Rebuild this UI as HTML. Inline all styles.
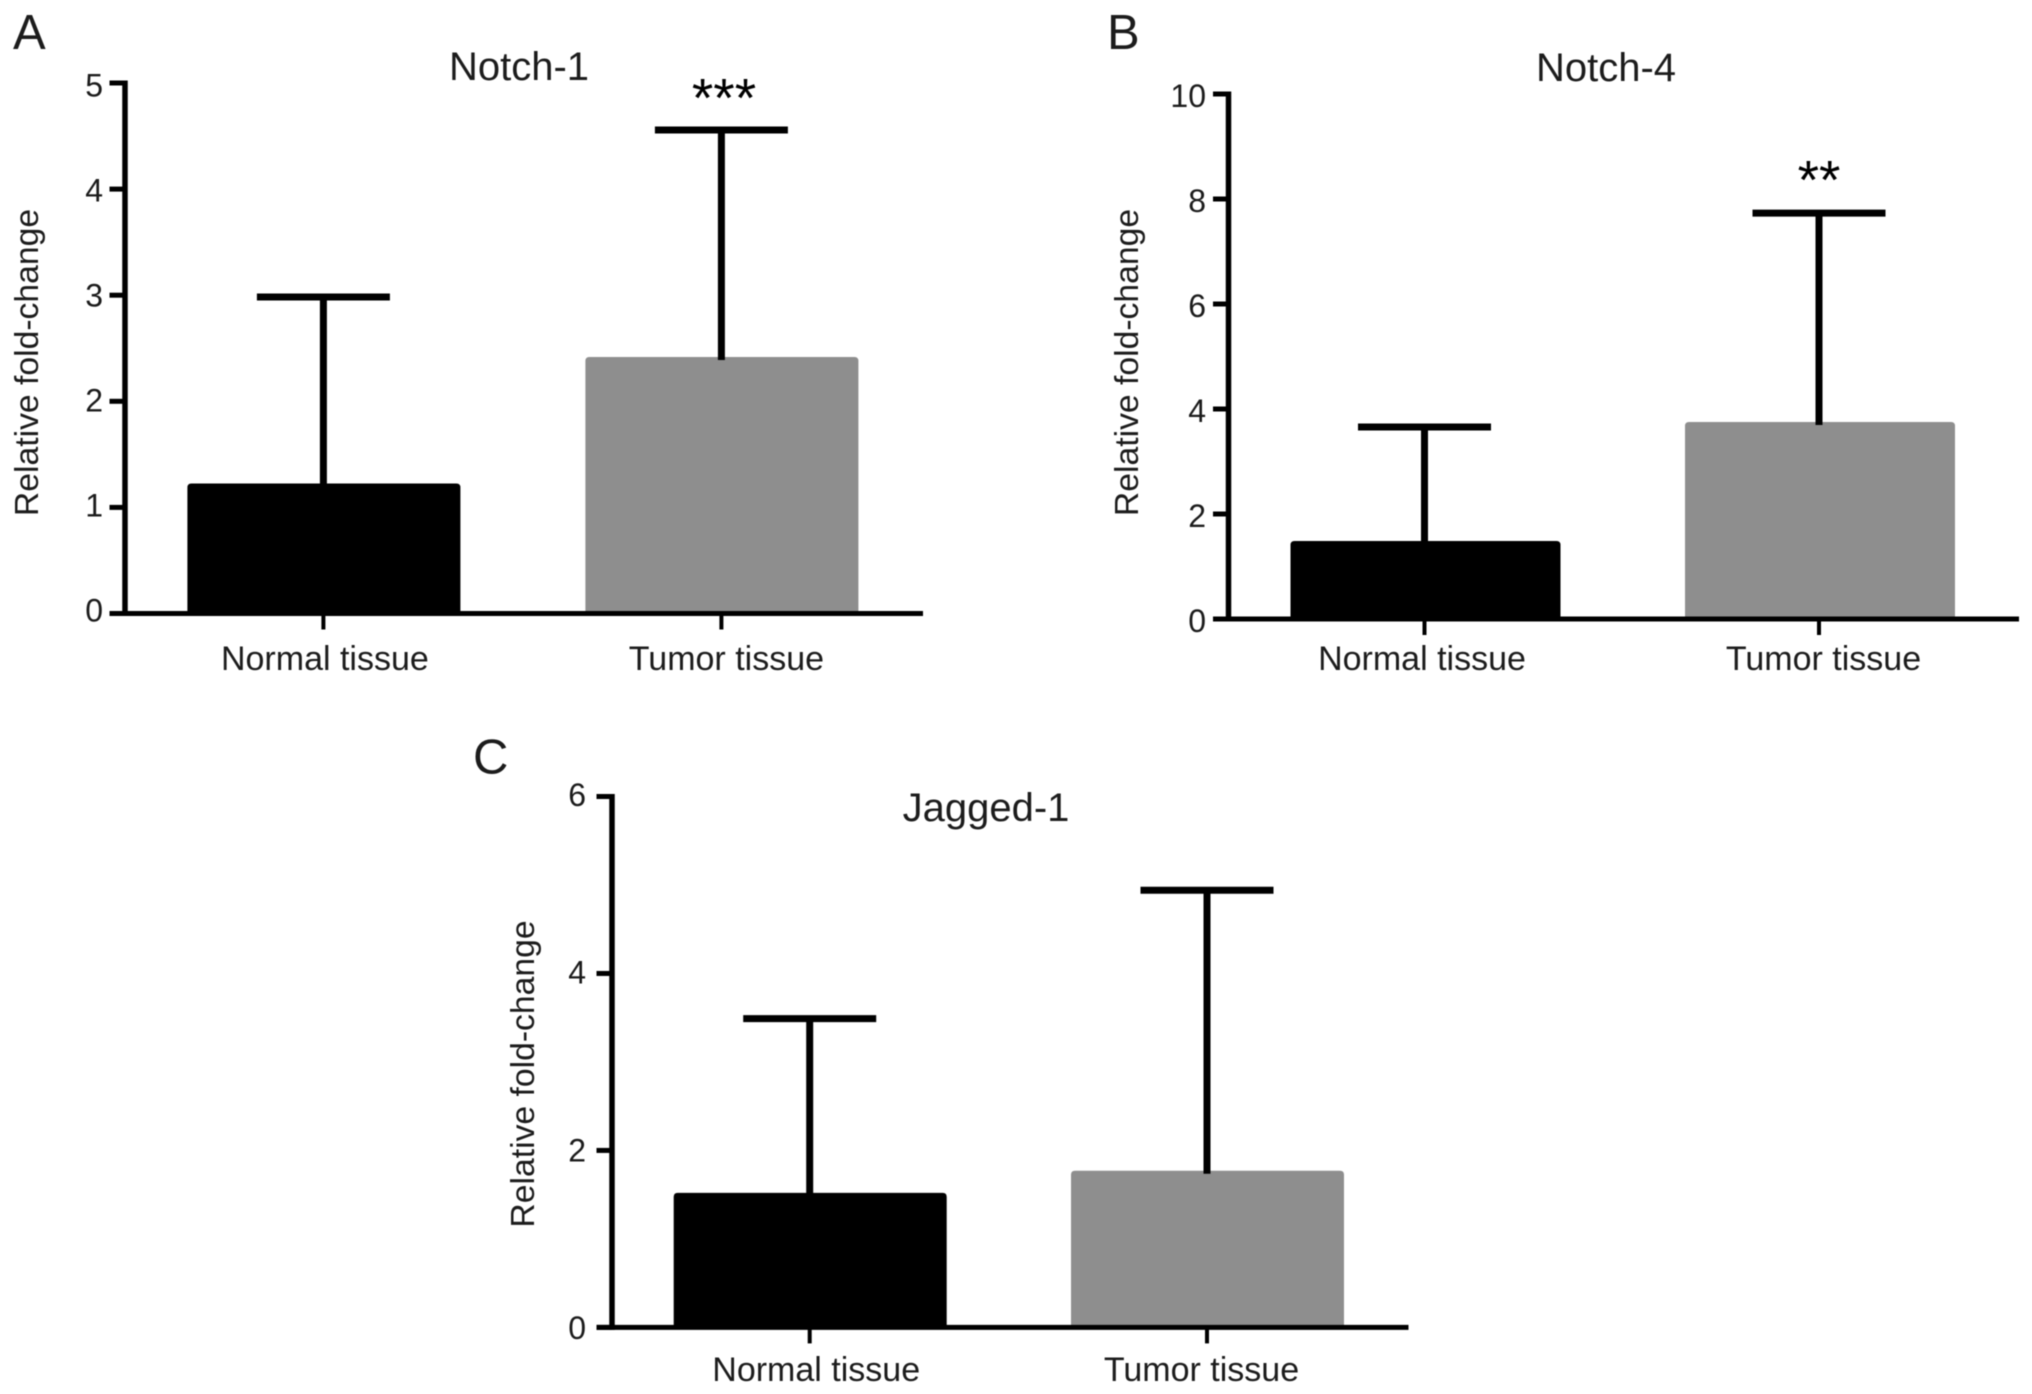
<!DOCTYPE html>
<html lang="en">
<head>
<meta charset="utf-8">
<title>Notch-1, Notch-4 and Jagged-1 relative fold-change</title>
<style>
  html, body { margin: 0; padding: 0; background: #fff; }
  body { width: 2032px; height: 1394px; overflow: hidden; }
  svg { display: block; filter: blur(0.6px); }
  text { font-family: "Liberation Sans", Arial, sans-serif; fill: #1c1c1c; }
  .letter { font-size: 49px; }
  .title { font-size: 40px; text-anchor: middle; }
  .ytitle { font-size: 33.7px; text-anchor: middle; }
  .stars { font-size: 55px; text-anchor: middle; fill: #000; }
  .tick { font-size: 32px; text-anchor: end; }
  .cat { font-size: 34px; text-anchor: middle; }
</style>
</head>
<body>
<svg id="fig" width="2032" height="1394" viewBox="0 0 2032 1394" xmlns="http://www.w3.org/2000/svg">
  <rect x="0" y="0" width="2032" height="1394" fill="#fff"/>

  <text class="letter" x="13" y="49">A</text>
  <text class="title" x="519" y="80">Notch-1</text>
  <text class="ytitle" transform="translate(38 362.5) rotate(-90)">Relative fold-change</text>
  <text class="stars" x="724" y="116.5">***</text>

  <text class="letter" x="1107" y="49">B</text>
  <text class="title" x="1606" y="81">Notch-4</text>
  <text class="ytitle" transform="translate(1138 362.5) rotate(-90)">Relative fold-change</text>
  <text class="stars" x="1819" y="198.5">**</text>

  <text class="letter" x="473" y="773.5">C</text>
  <text class="title" x="986" y="821">Jagged-1</text>
  <text class="ytitle" transform="translate(534 1074) rotate(-90)">Relative fold-change</text>

  <g id="panel-a"></g>
  <g id="panel-b"></g>
  <g id="panel-c"></g>
</svg>

<script>
// Data
var categories = ['Normal tissue', 'Tumor tissue'];
var barColors = ['#000000', '#8e8e8e'];

var notch1Means = [1.225, 2.417];
var notch1Errors = [1.758, 2.14];
var notch1Ticks = [0, 1, 2, 3, 4, 5];

var notch4Means = [1.486, 3.752];
var notch4Errors = [2.17, 3.98];
var notch4Ticks = [0, 2, 4, 6, 8, 10];

var jagged1Means = [1.52, 1.77];
var jagged1Errors = [1.97, 3.17];
var jagged1Ticks = [0, 2, 4, 6];

var SVG_NS = 'http://www.w3.org/2000/svg';

function make(parent, tag, attrs) {
  var el = document.createElementNS(SVG_NS, tag);
  for (var k in attrs) {
    el.setAttribute(k, attrs[k]);
  }
  parent.appendChild(el);
  return el;
}

function drawPanel(id, prefix, means, errors, ticks, box) {
  var g = document.getElementById(id);
  var maxTick = ticks[ticks.length - 1];
  var unit = (box.y0 - box.yTop) / maxTick;
  var labelUnit = (box.label0 - box.labelTop) / maxTick;

  function yScale(v) { return box.y0 - v * unit; }
  function xScale(i) { return box.x0 + i * box.step; }
  function tickLabelY(v) { return box.label0 - v * labelUnit + 11; }

  means.forEach(function (mean, i) {
    var cx = xScale(i);
    var top = yScale(mean);
    var left = cx - box.barW / 2 + box.barDx;
    var right = left + box.barW;
    var r = 4;
    var bar = make(g, 'path', {
      d: 'M' + left + ' ' + box.y0 + 'V' + (top + r) + 'Q' + left + ' ' + top + ' ' + (left + r) + ' ' + top +
         'H' + (right - r) + 'Q' + right + ' ' + top + ' ' + right + ' ' + (top + r) + 'V' + box.y0 + 'Z',
      fill: barColors[i]
    });
    
    

    var errTop = yScale(mean + errors[i]);
    var stem = make(g, 'line', { x1: cx, x2: cx, y1: top + 3, y2: errTop, stroke: '#000', 'stroke-width': 7 });
    
    

    var cap = make(g, 'line', { x1: cx - 66.5, x2: cx + 66.5, y1: errTop, y2: errTop, stroke: '#000', 'stroke-width': 7 });
    
    

    var xTick = make(g, 'line', { x1: cx, x2: cx, y1: box.y0, y2: box.y0 + 16, stroke: '#000', 'stroke-width': 4 });
    
    

    var label = make(g, 'text', { x: cx + box.labelDx[i], y: box.labelY, 'class': 'cat' });
    label.textContent = categories[i];
    
    
  });

  var yAxis = make(g, 'line', { x1: box.axisX, x2: box.axisX, y1: box.yTop - 2.5, y2: box.y0 + 2.5, stroke: '#000', 'stroke-width': 5.5 });
  
  

  var xAxis = make(g, 'line', { x1: box.axisX - 15.5, x2: box.xEnd, y1: box.y0, y2: box.y0, stroke: '#000', 'stroke-width': 5 });
  
  

  ticks.forEach(function (t) {
    var ty = yScale(t);
    var tick = make(g, 'line', { x1: box.axisX - 15.5, x2: box.axisX, y1: ty, y2: ty, stroke: '#000', 'stroke-width': 5 });
    
    

    var tl = make(g, 'text', { x: box.labelRight, y: tickLabelY(t), 'class': 'tick' });
    tl.textContent = String(t);
    
    
  });
}

drawPanel('panel-a', 'notch-1', notch1Means, notch1Errors, notch1Ticks,
  { axisX: 125, xEnd: 923, y0: 613.5, yTop: 83, label0: 610.7, labelTop: 85.7, labelRight: 103, x0: 323.4, step: 398, barW: 273, barDx: 0.5, labelDx: [1.5, 5], labelY: 670 });
drawPanel('panel-b', 'notch-4', notch4Means, notch4Errors, notch4Ticks,
  { axisX: 1228.5, xEnd: 2019, y0: 619, yTop: 94, label0: 621, labelTop: 96, labelRight: 1206, x0: 1424.5, step: 394.5, barW: 270, barDx: 1, labelDx: [-2.5, 4.5], labelY: 670 });
drawPanel('panel-c', 'jagged-1', jagged1Means, jagged1Errors, jagged1Ticks,
  { axisX: 612, xEnd: 1408.5, y0: 1327.4, yTop: 796.5, label0: 1328, labelTop: 795, labelRight: 586, x0: 809.7, step: 397.3, barW: 273, barDx: 0.5, labelDx: [6.5, -5.5], labelY: 1381 });
</script>
</body>
</html>
